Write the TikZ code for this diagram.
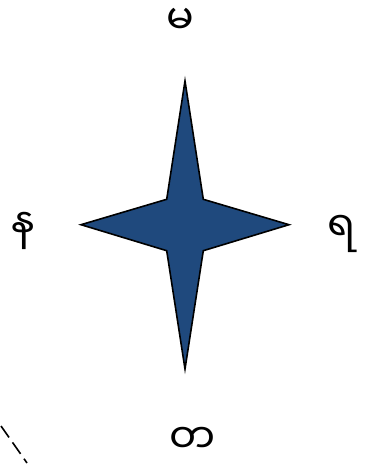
\documentclass[tikz,border=0pt]{standalone}
\usepackage{fontspec}
\newfontfamily\myfont[Script=Myanmar]{Noto Sans Myanmar UI}
\definecolor{starblue}{RGB}{31,73,125}
\tikzset{lbl/.style={font=\myfont\fontsize{41}{42}\selectfont, inner sep=0pt,
  text height=22pt, text depth=0pt, anchor=base}}
\begin{document}
\begin{tikzpicture}[x=1pt,y=-1pt]
\useasboundingbox (0,0) rectangle (365,464);
\draw[fill=starblue, line width=1.6pt, line join=miter]
  (185,81) -- (203.3,199.3) -- (289,224.7) -- (203.3,250.7) -- (185,369)
  -- (166.7,250.7) -- (81,224.7) -- (166.7,199.3) -- cycle;
\node[lbl] (n) at (180,34.5) {မ};
\node[lbl] (e) at (342,241) {ရ};
\node[lbl] (w) at (23,238) {န};
\node[lbl] (s) at (193,453) {တ};
\coordinate (d1) at (1,426);
\coordinate (d2) at (27,463);
\draw[line width=1.6pt, dash pattern=on 14pt off 6pt] (d1) -- (d2);
\end{tikzpicture}
\end{document}
